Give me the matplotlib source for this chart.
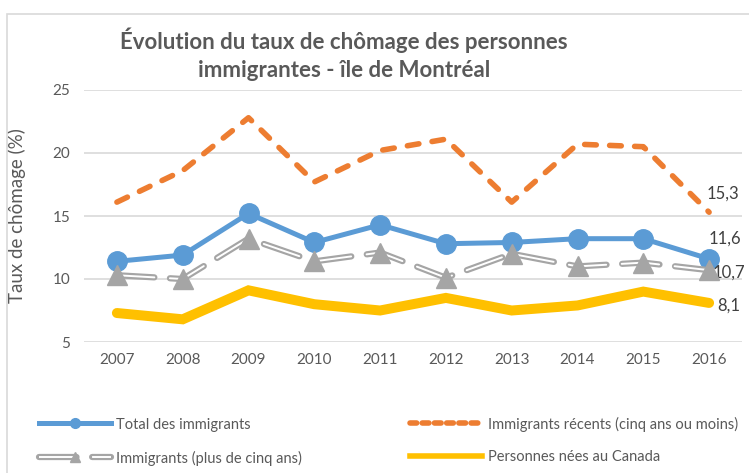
import matplotlib
matplotlib.use("Agg")
import matplotlib.pyplot as plt
from matplotlib.lines import Line2D
from matplotlib.patches import Rectangle

# Données (taux de chômage, %)
annees = ["2007", "2008", "2009", "2010", "2011", "2012", "2013", "2014", "2015", "2016"]
total_immigrants = [11.4, 11.9, 15.2, 12.9, 14.3, 12.8, 12.9, 13.2, 13.2, 11.6]
immigrants_recents = [16.1, 18.6, 22.8, 17.7, 20.2, 21.1, 16.1, 20.7, 20.5, 15.3]
immigrants_plus5 = [10.3, 10.0, 13.2, 11.4, 12.1, 10.1, 12.0, 11.0, 11.3, 10.7]
nes_canada = [7.3, 6.8, 9.1, 8.0, 7.5, 8.5, 7.5, 7.9, 9.0, 8.1]

bleu = "#5B9BD5"
orange = "#ED7D31"
gris = "#A5A5A5"
jaune = "#FFC000"

plt.rcParams['font.family'] = ['Lato', 'DejaVu Sans']

W, H = 749, 473
fig = plt.figure(figsize=(W / 100, H / 100), dpi=100)
ax = fig.add_axes([84 / W, 1 - 342 / H, (742 - 84) / W, (342 - 90) / H])

# cadre du graphique
fig.patches.append(Rectangle((7 / W, -0.05), 1.0, 1 - 14 / H + 0.05, transform=fig.transFigure,
                             fill=False, edgecolor="#D9D9D9", linewidth=1.2))

x = range(len(annees))

ax.plot(x, total_immigrants, color=bleu, linewidth=3.6, marker="o", markersize=14,
        zorder=3)
ax.plot(x, immigrants_recents, color=orange, linewidth=4, dashes=(2.1, 2.4),
        dash_capstyle="round", solid_capstyle="round", zorder=2)
# ligne double grise
ax.plot(x, immigrants_plus5, color=gris, linewidth=4.5, dashes=(6, 2.5),
        dash_capstyle="round", zorder=4)
ax.plot(x, immigrants_plus5, color="white", linewidth=1.4, dashes=(19.3, 8.0),
        dash_capstyle="round", zorder=4)
ax.plot(x, immigrants_plus5, linestyle="none", marker="^", markersize=14, color=gris,
        zorder=5)
ax.plot(x, nes_canada, color=jaune, linewidth=7.2, solid_capstyle="round",
        solid_joinstyle="miter", zorder=2)

# étiquettes de données (dernière année), décalage en pixels
for serie, dx, dy in [(immigrants_recents, -3, 19), (total_immigrants, -1, 20),
                      (immigrants_plus5, 3, -2), (nes_canada, 8, -3)]:
    ax.annotate(f"{serie[-1]:.1f}".replace(".", ","), (9, serie[-1]),
                xytext=(dx * 0.72, dy * 0.72), textcoords="offset points",
                ha="left", va="center", fontsize=12, color="#404040",
                annotation_clip=False)

ax.set_xlim(-0.5, 9.5)
ax.set_ylim(5, 25)
ax.set_yticks([5, 10, 15, 20, 25])
ax.set_xticks(list(x))
ax.set_xticklabels(annees)
ax.grid(axis="y", color="#D9D9D9", linewidth=1.2)
ax.set_axisbelow(True)
for s in ax.spines.values():
    s.set_visible(False)
ax.tick_params(length=0, labelsize=11, labelcolor="#595959", pad=8)
ax.tick_params(axis="y", pad=10)
ax.set_ylabel("Taux de chômage (%)", fontsize=13.5, color="#595959")
ax.yaxis.set_label_coords((26 - 84) / (742 - 84), 0.5)

fig.text(344 / W, 1 - 54 / H,
         "Évolution du taux de chômage des personnes\nimmigrantes - île de Montréal",
         ha="center", va="center", fontsize=16, fontweight="bold", color="#595959",
         linespacing=1.4)

# légende
h_total = Line2D([], [], color=bleu, linewidth=3.6, marker="o", markersize=7)
h_recents = Line2D([], [], color=orange, linewidth=4, dashes=(1.2, 1.0),
                   dash_capstyle="round")
h_plus5 = (Line2D([], [], color=gris, linewidth=4.5, dashes=(6, 2.5), dash_capstyle="round"),
           Line2D([], [], color="white", linewidth=1.4, dashes=(19.3, 8.0)),
           Line2D([], [], color=gris, linestyle="none", marker="^", markersize=7))
h_canada = Line2D([], [], color=jaune, linewidth=4)
leg = fig.legend([h_total, h_plus5, h_recents, h_canada],
                 ["Total des immigrants", "Immigrants (plus de cinq ans)",
                  "Immigrants récents (cinq ans ou moins)", "Personnes nées au Canada"],
                 ncol=2, loc="center left", bbox_to_anchor=(26 / W, 1 - 441 / H),
                 frameon=False, fontsize=10.5, handlelength=4.9, columnspacing=7.4,
                 labelspacing=1.3, handletextpad=0.4, labelcolor="#595959")

fig.savefig("out.png", dpi=100)
